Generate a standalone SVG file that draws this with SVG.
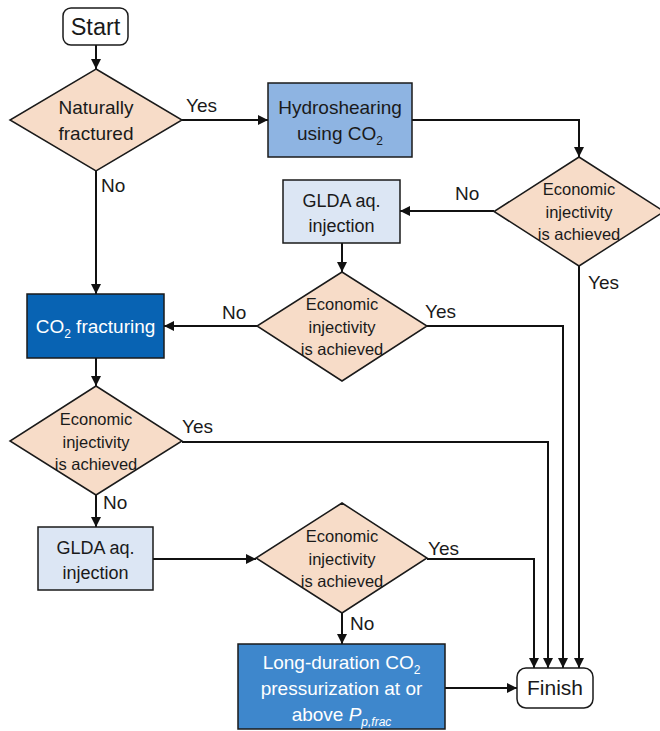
<svg xmlns="http://www.w3.org/2000/svg" width="660" height="731" viewBox="0 0 660 731">
<defs>
<marker id="arr" viewBox="0 0 10 10" refX="10" refY="5" markerWidth="5" markerHeight="5" orient="auto" markerUnits="strokeWidth">
<path d="M0,0 L10,5 L0,10 z" fill="#111"/>
</marker>
<style>
text{font-family:"Liberation Sans",Arial,sans-serif;fill:#1a1a1a;text-anchor:middle}
.term{fill:#fff;stroke:#1a1a1a;stroke-width:1.5}
.dia{fill:#F7DCC8;stroke:#1a1a1a;stroke-width:1.5}
.dt{font-size:16.5px}
.lbl{font-size:19px;text-anchor:start}
.conn{fill:none;stroke:#111;stroke-width:2}
.arrow{marker-end:url(#arr)}
.w{fill:#fff}
</style>
</defs>
<rect width="660" height="731" fill="#fff"/>

<g id="connectors">
<path class="conn arrow" d="M96,45 V69"/>
<path class="conn arrow" d="M182,120 H268"/>
<path class="conn arrow" d="M96,171 V294"/>
<path class="conn arrow" d="M412,120 H579 V157"/>
<path class="conn arrow" d="M494,211 H400"/>
<path class="conn arrow" d="M579,266 V668"/>
<path class="conn arrow" d="M342,243 V272"/>
<path class="conn arrow" d="M257,326 H164"/>
<path class="conn arrow" d="M427,326 H563 V668"/>
<path class="conn arrow" d="M96,358 V386"/>
<path class="conn arrow" d="M182,442 H548 V668"/>
<path class="conn arrow" d="M96,495 V527"/>
<path class="conn arrow" d="M153,559 H256"/>
<path class="conn arrow" d="M427,559 H534 V668"/>
<path class="conn arrow" d="M342,613 V644"/>
<path class="conn arrow" d="M445,688 H517"/>
<text class="lbl" x="186" y="112">Yes</text>
<text class="lbl" x="101" y="192">No</text>
<text class="lbl" x="455" y="200">No</text>
<text class="lbl" x="588" y="289">Yes</text>
<text class="lbl" x="222" y="319">No</text>
<text class="lbl" x="425" y="318">Yes</text>
<text class="lbl" x="182" y="433">Yes</text>
<text class="lbl" x="103" y="509">No</text>
<text class="lbl" x="428" y="555">Yes</text>
<text class="lbl" x="350" y="630">No</text>
</g>

<g id="start">
<rect class="term" x="63" y="8" width="65" height="37" rx="8"/>
<text x="95.5" y="35" style="font-size:23.5px">Start</text>
</g>

<g id="naturally-fractured">
<polygon class="dia" points="96,69 182,120 96,171 10,120"/>
<text x="96" y="114" style="font-size:19px">Naturally</text>
<text x="96" y="140" style="font-size:19px">fractured</text>
</g>

<g id="hydroshearing">
<rect x="268" y="83" width="144" height="74" fill="#8EB4E2" stroke="#1a1a1a" stroke-width="1.5"/>
<text x="340" y="114" style="font-size:19px">Hydroshearing</text>
<text x="340" y="140" style="font-size:19px">using CO<tspan dy="5" style="font-size:12px">2</tspan></text>
</g>

<g id="decision-2">
<polygon class="dia" points="579,157 664,211.5 579,266 494,211.5"/>
<text class="dt" x="579" y="195">Economic</text>
<text class="dt" x="579" y="218">injectivity</text>
<text class="dt" x="579" y="240">is achieved</text>
</g>

<g id="glda-1">
<rect x="283" y="180" width="117" height="63" fill="#DCE6F4" stroke="#1a1a1a" stroke-width="1.5"/>
<text x="341.5" y="207" style="font-size:18px">GLDA aq.</text>
<text x="341.5" y="232" style="font-size:18px">injection</text>
</g>

<g id="decision-3">
<polygon class="dia" points="342,272 427,326 342,381 257,326"/>
<text class="dt" x="342" y="310">Economic</text>
<text class="dt" x="342" y="333">injectivity</text>
<text class="dt" x="342" y="355">is achieved</text>
</g>

<g id="co2-fracturing">
<rect x="27" y="294" width="137" height="64" fill="#0863B3" stroke="#1a1a1a" stroke-width="1.5"/>
<text class="w" x="95.5" y="333" style="font-size:19px">CO<tspan dy="5" style="font-size:12px">2</tspan><tspan dy="-5"> fracturing</tspan></text>
</g>

<g id="decision-4">
<polygon class="dia" points="96,386 182,441 96,495 10,441"/>
<text class="dt" x="96" y="425">Economic</text>
<text class="dt" x="96" y="448">injectivity</text>
<text class="dt" x="96" y="470">is achieved</text>
</g>

<g id="glda-2">
<rect x="38" y="527" width="115" height="63" fill="#DCE6F4" stroke="#1a1a1a" stroke-width="1.5"/>
<text x="95.5" y="554" style="font-size:18px">GLDA aq.</text>
<text x="95.5" y="579" style="font-size:18px">injection</text>
</g>

<g id="decision-5">
<polygon class="dia" points="342,503 427,558 342,613 256,558"/>
<text class="dt" x="342" y="542">Economic</text>
<text class="dt" x="342" y="565">injectivity</text>
<text class="dt" x="342" y="587">is achieved</text>
</g>

<g id="long-duration">
<rect x="238" y="644" width="207" height="85" fill="#3E87CC" stroke="#1a1a1a" stroke-width="1.5"/>
<text class="w" x="341.5" y="669" style="font-size:19px">Long-duration CO<tspan dy="5" style="font-size:12px">2</tspan></text>
<text class="w" x="341.5" y="695" style="font-size:19px">pressurization at or</text>
<text class="w" x="341.5" y="721" style="font-size:19px">above <tspan style="font-style:italic">P</tspan><tspan dy="5" style="font-size:12px;font-style:italic">p,frac</tspan></text>
</g>

<g id="finish">
<rect class="term" x="517" y="668" width="76" height="40" rx="9"/>
<text x="555" y="695" style="font-size:21px">Finish</text>
</g>
</svg>
